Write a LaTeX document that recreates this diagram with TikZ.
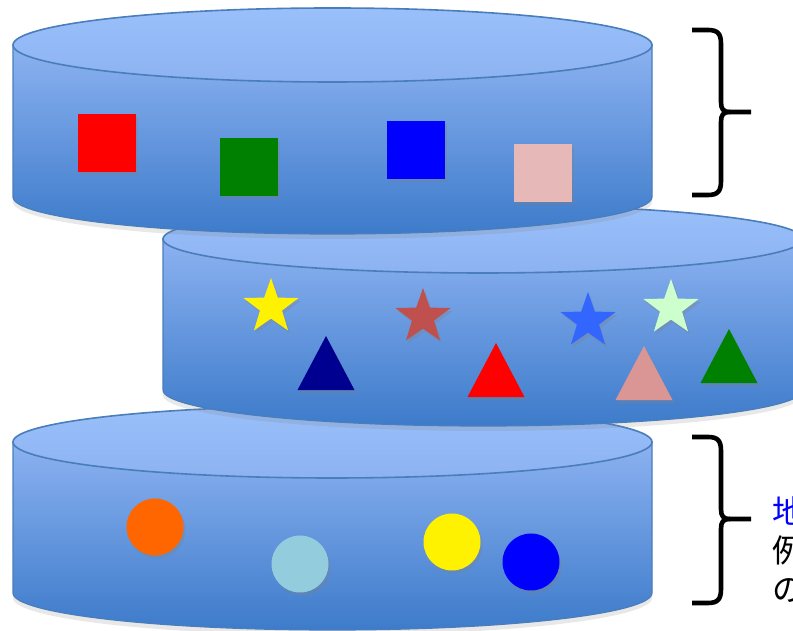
\documentclass[tikz,border=0pt]{standalone}
\usepackage{fontspec}
\usepackage{tikz}
\usetikzlibrary{shapes.geometric, shadows, decorations.pathreplacing, positioning}
\newfontfamily\jpfont{Noto Sans CJK JP}
\definecolor{layertop}{RGB}{154,192,251}
\definecolor{layerlight}{RGB}{140,178,241}
\definecolor{layerdark}{RGB}{61,123,202}
\definecolor{layerline}{RGB}{74,126,187}
\definecolor{itemgreen}{RGB}{0,128,0}
\definecolor{itempink}{RGB}{230,185,184}
\definecolor{itemnavy}{RGB}{0,0,144}
\definecolor{itembrown}{RGB}{192,80,77}
\definecolor{itemsky}{RGB}{51,102,255}
\definecolor{itemmint}{RGB}{204,255,204}
\definecolor{itemrose}{RGB}{217,150,148}
\definecolor{itemorange}{RGB}{255,102,0}
\definecolor{itemaqua}{RGB}{147,205,221}

% #1 centre x, #2 top y, #3 bottom y, #4 x radius, #5 top y radius, #6 bottom y radius
\newcommand{\layer}[6]{%
  \path[layerbody] (#1-#4,#2) -- (#1-#4,#3)
    arc[start angle=180, end angle=360, x radius=#4*0.5pt, y radius=#6*0.5pt]
    -- (#1+#4,#2) -- cycle;
  \path[layerface] (#1,#2) ellipse[x radius=#4*0.5pt, y radius=#5*0.5pt];
}
% #1 end x, #2 top y, #3 bottom y, #4 tip y, #5 tip x
\newcommand{\bracket}[5]{%
  \draw[bracemark] (#1,#2) -- (#1+16,#2) .. controls (#1+26,#2) and (#1+29,#2-4) .. (#1+29,#2-14)
    -- (#1+29,#4+10) .. controls (#1+29,#4+3) and (#1+31,#4) .. (#1+38,#4) -- (#5,#4);
  \draw[bracemark] (#1+38,#4) .. controls (#1+31,#4) and (#1+29,#4-3) .. (#1+29,#4-10)
    -- (#1+29,#3+14) .. controls (#1+29,#3+4) and (#1+26,#3) .. (#1+16,#3) -- (#1,#3);
}

\begin{document}
\begin{tikzpicture}[
    x=0.5pt, y=0.5pt,
    layerbody/.style={top color=layerlight, bottom color=layerdark, draw=layerline, line width=0.6pt,
      drop shadow={shadow xshift=0pt, shadow yshift=-2.5pt, opacity=0.18}},
    layerface/.style={top color=layertop, bottom color=layerlight, draw=layerline, line width=0.8pt},
    itemshadow/.style={drop shadow={shadow xshift=1pt, shadow yshift=-1.5pt, opacity=0.3}},
    sqitem/.style={rectangle, minimum size=29pt, inner sep=0pt, itemshadow},
    staritem/.style={star, star points=5, star point ratio=2.5, minimum size=29pt, inner sep=0pt, itemshadow},
    triitem/.style={isosceles triangle, isosceles triangle stretches, shape border rotate=90,
      minimum width=28.5pt, minimum height=27pt, inner sep=0pt, anchor=apex, itemshadow},
    dotitem/.style={circle, minimum size=28.5pt, inner sep=0pt, itemshadow},
    bracemark/.style={line width=2.3pt, line join=round}
]
\clip (0,0) rectangle (793,631);

\layer{332.5}{189}{38}{319.5}{36}{37}
\layer{483}{392}{241}{320}{34}{36}
\layer{332.5}{586}{434}{319.5}{37}{37}

\node[sqitem, fill=red] (sqred) at (107,488) {};
\node[sqitem, fill=itemgreen] (sqgreen) at (249,463.5) {};
\node[sqitem, fill=blue] (sqblue) at (416,480.5) {};
\node[sqitem, fill=itempink] (sqpink) at (543,457.5) {};

\node[staritem, fill=yellow] (staryellow) at (271,324) {};
\node[staritem, fill=itembrown] (starbrown) at (423,314) {};
\node[staritem, fill=itemsky] (starsky) at (588,310) {};
\node[staritem, fill=itemmint] (starmint) at (671,323) {};

\node[triitem, fill=itemnavy] (trinavy) at (326,296) {};
\node[triitem, fill=red] (trired) at (496,289) {};
\node[triitem, fill=itemrose] (trirose) at (644,286) {};
\node[triitem, fill=itemgreen] (trigreen) at (729,303) {};

\node[dotitem, fill=itemorange] (dotorange) at (155,104) {};
\node[dotitem, fill=itemaqua] (dotaqua) at (300,67) {};
\node[dotitem, fill=yellow] (dotyellow) at (452,89) {};
\node[dotitem, fill=blue] (dotblue) at (531,69) {};

\bracket{692}{601}{436}{519}{751}
\bracket{692}{194}{28}{112}{751}

\node[anchor=north west, inner sep=0pt, align=left, font=\jpfont\fontsize{16pt}{19.5pt}\selectfont]
  (lownote) at (772,135) {\textcolor{blue}{地}\\例\\の};
\end{tikzpicture}
\end{document}
